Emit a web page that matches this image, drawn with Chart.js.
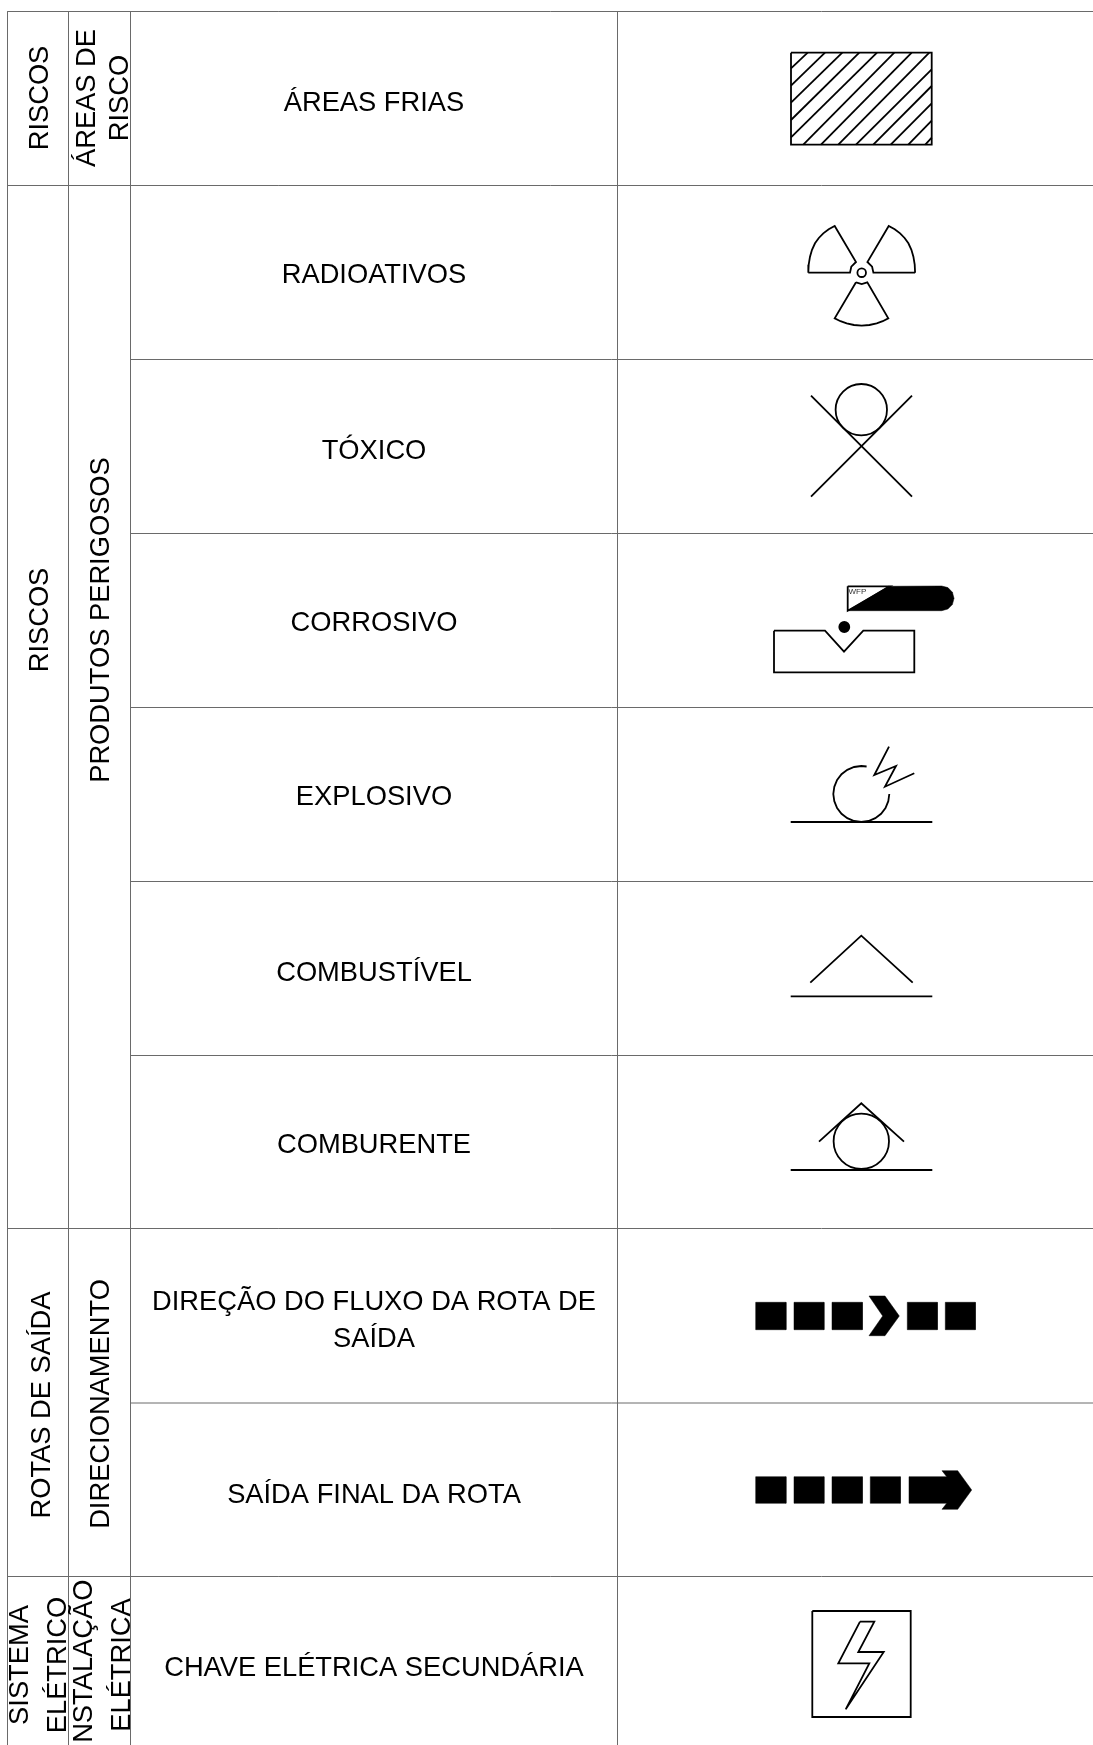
<!DOCTYPE html>
<html lang="pt">
<head>
<meta charset="utf-8">
<title>Riscos e rotas de saída</title>
<script src="https://cdn.jsdelivr.net/npm/chart.js@4"></script>
<style>
  html, body { margin: 0; padding: 0; background: #fff; }
  canvas { display: block; }
</style>
</head>
<body>
<canvas id="c1" width="1093" height="1745"></canvas>
<script>
// table labels
const cellLabels = ['ÁREAS FRIAS', 'RADIOATIVOS', 'TÓXICO', 'CORROSIVO', 'EXPLOSIVO', 'COMBUSTÍVEL', 'COMBURENTE',
  'DIREÇÃO DO FLUXO DA ROTA DE', 'SAÍDA', 'SAÍDA FINAL DA ROTA', 'CHAVE ELÉTRICA SECUNDÁRIA'];
const cellLabelY = [103, 275, 451, 623, 797, 973, 1145, 1302, 1339, 1495, 1668];
const sideLabels = ['RISCOS', 'ÁREAS DE', 'RISCO', 'RISCOS', 'PRODUTOS PERIGOSOS', 'ROTAS DE SAÍDA', 'DIRECIONAMENTO',
  'SISTEMA', 'ELÉTRICO', 'INSTALAÇÃO', 'ELÉTRICA'];
const sideLabelX = [40.5, 87, 120, 40.5, 101, 42, 101, 20.5, 58.5, 84.5, 122];
const sideLabelY = [98, 98, 98, 620, 620, 1405, 1404, 1665, 1665, 1665, 1665];

// table grid
const colEdges = [7.5, 68.5, 130.5, 617.5];
const fullRows = [11.5, 185.5, 1228.5, 1576.5];
const innerRows = [359.5, 533.5, 707.5, 881.5, 1055.5, 1403];

// symbols: open and closed lines
const hatch = [
  [[791, 68.3], [807.7, 52.7]], [[791, 85.7], [825, 52.7]], [[791, 102.7], [842.3, 52.7]],
  [[791, 120], [859.3, 52.7]], [[791, 137.3], [877, 52.7]], [[803.3, 144.7], [894.3, 52.7]],
  [[821, 144.7], [911.7, 52.7]], [[838.3, 144.7], [929.3, 52.7]], [[856, 144.7], [931.7, 69.3]],
  [[873.3, 144.7], [931.7, 86]], [[890.7, 144.7], [931.7, 103.3]], [[908.3, 144.7], [931.7, 120.7]],
  [[925.3, 144.7], [931.7, 137.7]]
];
const coldBox = [[791, 52.7], [931.7, 52.7], [931.7, 144.7], [791, 144.7], [791, 52.7]];
const bladeLeft = [[808.3, 272.7], [850, 272.7], [851.3, 266.7], [856, 262], [834.7, 226], [828.7, 229.2], [823.3, 233.3],
  [818.8, 238], [815, 243.3], [812, 249.8], [810, 256.7], [808.7, 264.7], [808.3, 272.7]];
const bladeRight = [[915.1, 272.7], [873.4, 272.7], [872.1, 266.7], [867.4, 262], [888.7, 226], [894.7, 229.2], [900.1, 233.3],
  [904.6, 238], [908.4, 243.3], [911.4, 249.8], [913.4, 256.7], [914.7, 264.7], [915.1, 272.7]];
const bladeBottom = [[856, 282.3], [834.7, 318.3], [840.5, 321.2], [846.7, 323.3], [854, 325], [861.7, 325.7], [869.4, 325],
  [876.7, 323.3], [882.7, 321.2], [888.3, 318.3], [867.3, 282.3], [861.7, 284], [856, 282.3]];
const toxicCross = [[[811, 395.7], [912, 496.7]], [[912, 395.7], [811, 496.7]]];
const barOutline = [[847.7, 586.3], [890, 586.3], [847.7, 610.7], [847.7, 586.3]];
const groove = [[774, 630.7], [825, 630.7], [844, 651.7], [863.3, 630.7], [914.3, 630.7], [914.3, 672.3],
  [774, 672.3], [774, 630.7]];
const blastArc = [[866.6, 766.5], [861.3, 766], [854.1, 767], [847.3, 769.8], [841.5, 774.2], [837.1, 780],
  [834.3, 786.8], [833.3, 794], [834.3, 801.2], [837.1, 808], [841.5, 813.8], [847.3, 818.2], [854.1, 821],
  [861.3, 822], [868.5, 821], [875.3, 818.2], [881.1, 813.8], [885.5, 808], [888.3, 801.2], [889.3, 794]];
const spark = [[889, 746.7], [874.3, 775], [896, 766], [885, 786.7], [914.3, 773.3]];
const baseLines = [[[790.7, 822], [932.3, 822]], [[790.7, 996.3], [932.3, 996.3]], [[790.7, 1170], [932.3, 1170]]];
const roofFuel = [[810.3, 982.7], [861.3, 935.7], [912.7, 982.7]];
const roofOxidizer = [[819, 1141.7], [861.3, 1103.3], [904, 1141.7]];
const switchBox = [[812.3, 1611], [910.7, 1611], [910.7, 1717], [812.3, 1717], [812.3, 1611]];
const bolt = [[860, 1621.7], [874.3, 1621.7], [858.3, 1652], [883.7, 1652], [845.7, 1709.3], [869.3, 1663.3],
  [838.3, 1663.3], [860, 1621.7]];

// symbols: filled shapes
const barFill = [[847.7, 610.7], [888.3, 586.3], [941.7, 586], [947.9, 587.6], [952.4, 592.2], [954, 598.3],
  [952.4, 604.5], [947.9, 609], [941.7, 610.7], [847.7, 610.7]];
const chevron = [[869, 1296], [885, 1296], [899.3, 1316], [885, 1335.7], [869, 1335.7], [882.7, 1316], [869, 1296]];
const arrowHead = [[909, 1476.7], [946.7, 1476.7], [942, 1470.7], [957.7, 1470.7], [971.7, 1490], [957.7, 1509.3],
  [942, 1509.3], [946.7, 1503.3], [909, 1503.3], [909, 1476.7]];
const routeRow1 = [[755.7, 786], [794, 824], [832, 862.3], [907.3, 937.3], [945.3, 975.3]];
const routeRow2 = [[755.7, 786], [794, 824], [832, 862.3], [870.3, 900.3]];
const routeY1 = [1302.3, 1329.7];
const routeY2 = [1476.7, 1503.3];

// symbols: round marks [x, y, radius]
const rings = [[861.7, 272.7, 4.3], [861.3, 409.7, 25.7], [861.3, 1141.3, 27.7]];
const dots = [[844.3, 627, 5]];

function line(points, color, width) {
  return {
    data: points.map(p => ({ x: p[0], y: p[1] })),
    showLine: true,
    borderColor: color || '#000',
    borderWidth: width || 1.8,
    borderJoinStyle: 'miter',
    pointRadius: 0,
    tension: 0,
    fill: false
  };
}

function shape(points) {
  return {
    data: points.map(p => ({ x: p[0], y: p[1] })),
    showLine: true,
    borderColor: '#000',
    borderWidth: 0.5,
    backgroundColor: '#000',
    pointRadius: 0,
    tension: 0,
    fill: 'shape'
  };
}

function block(xs, ys) {
  return shape([[xs[0], ys[0]], [xs[1], ys[0]], [xs[1], ys[1]], [xs[0], ys[1]], [xs[0], ys[0]]]);
}

function round(mark, fillColor) {
  return {
    data: [{ x: mark[0], y: mark[1] }],
    showLine: false,
    pointStyle: 'circle',
    pointRadius: mark[2],
    pointBorderWidth: 1.8,
    pointBorderColor: '#000',
    pointBackgroundColor: fillColor
  };
}

const GRID = '#6a6a6a';
const datasets = [];

colEdges.forEach(x => datasets.push(line([[x, 11.5], [x, 1745]], GRID, 1)));
fullRows.forEach(y => datasets.push(line([[7.5, y], [1093, y]], GRID, 1)));
innerRows.forEach(y => datasets.push(line([[130.5, y], [1093, y]], GRID, 1)));

[barFill, chevron, arrowHead].forEach(s => datasets.push(shape(s)));
routeRow1.forEach(xs => datasets.push(block(xs, routeY1)));
routeRow2.forEach(xs => datasets.push(block(xs, routeY2)));

hatch.concat(toxicCross, baseLines).forEach(s => datasets.push(line(s)));
[coldBox, bladeLeft, bladeRight, bladeBottom, barOutline, groove, blastArc, spark, roofFuel, roofOxidizer, switchBox, bolt]
  .forEach(s => datasets.push(line(s)));

rings.forEach(m => datasets.push(round(m, 'transparent')));
dots.forEach(m => datasets.push(round(m, '#000')));

const tableText = {
  id: 'tableText',
  afterDatasetsDraw(chart) {
    const ctx = chart.ctx;
    const sx = chart.scales.x;
    const sy = chart.scales.y;
    ctx.save();
    ctx.fillStyle = '#000';
    ctx.font = '27.3px "Liberation Sans", Arial, sans-serif';
    ctx.textAlign = 'center';
    ctx.textBaseline = 'middle';
    cellLabels.forEach((label, i) => {
      ctx.fillText(label, sx.getPixelForValue(374), sy.getPixelForValue(cellLabelY[i]));
    });
    sideLabels.forEach((label, i) => {
      ctx.save();
      ctx.translate(sx.getPixelForValue(sideLabelX[i]), sy.getPixelForValue(sideLabelY[i]));
      ctx.rotate(-Math.PI / 2);
      ctx.fillText(label, 0, 0);
      ctx.restore();
    });
    ctx.font = '8px "Liberation Sans", Arial, sans-serif';
    ctx.textAlign = 'left';
    ctx.textBaseline = 'alphabetic';
    ctx.fillStyle = '#333';
    ctx.fillText('WFP', sx.getPixelForValue(848.5), sy.getPixelForValue(594));
    ctx.restore();
  }
};

new Chart(document.getElementById('c1').getContext('2d'), {
  type: 'scatter',
  data: { datasets },
  options: {
    responsive: false,
    animation: false,
    layout: { padding: 0, autoPadding: false },
    plugins: { legend: { display: false }, tooltip: { enabled: false } },
    scales: {
      x: { type: 'linear', min: 0, max: 1093, display: false },
      y: { type: 'linear', min: 0, max: 1745, reverse: true, display: false }
    }
  },
  plugins: [tableText]
});
</script>
</body>
</html>
